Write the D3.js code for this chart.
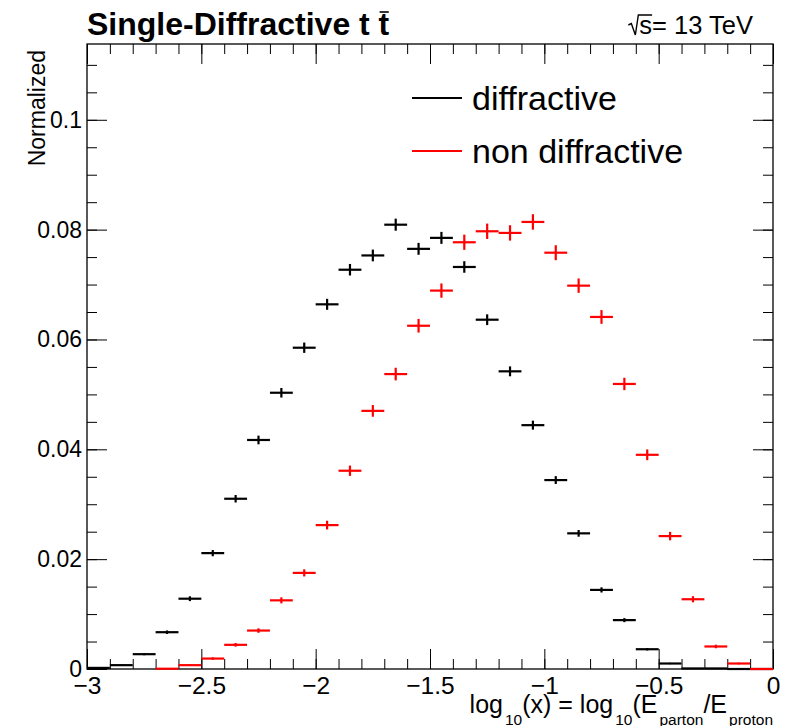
<!DOCTYPE html>
<html>
<head>
<meta charset="utf-8">
<script src="https://cdn.jsdelivr.net/npm/d3@7"></script>
<style>
  html, body { margin: 0; padding: 0; background: #ffffff; }
  svg { display: block; font-family: "Liberation Sans", Arial, Helvetica, sans-serif; }
</style>
</head>
<body>
<svg id="chart" width="797" height="726"></svg>
<script>
// ---- histogram contents: log10(x) bins of width 0.1 from -3 to 0 ----
const binCenters = [
  -2.95, -2.85, -2.75, -2.65, -2.55, -2.45, -2.35, -2.25, -2.15, -2.05,
  -1.95, -1.85, -1.75, -1.65, -1.55, -1.45, -1.35, -1.25, -1.15, -1.05,
  -0.95, -0.85, -0.75, -0.65, -0.55, -0.45, -0.35, -0.25, -0.15, -0.05
];
const binWidth = 0.1;

// diffractive sample (normalized)
const diffractive = [
  0.0002, 0.0007, 0.0027, 0.0067, 0.0128, 0.0211, 0.0310, 0.0417, 0.0503, 0.0585,
  0.0664, 0.0727, 0.0753, 0.0809, 0.0765, 0.0785, 0.0732, 0.0636, 0.0542, 0.0444,
  0.0344, 0.0247, 0.0144, 0.0089, 0.0036, 0.0010, 0.0001, 0.0001, 0.0, 0.0
];
const diffractiveErr = [
  0.00006, 0.00010, 0.00020, 0.00032, 0.00044, 0.00057, 0.00068, 0.00079, 0.00087, 0.00094,
  0.00100, 0.00105, 0.00107, 0.00110, 0.00108, 0.00109, 0.00105, 0.00098, 0.00090, 0.00082,
  0.00072, 0.00061, 0.00047, 0.00037, 0.00023, 0.00012, 0.00004, 0.00004, 0.0, 0.0
];

// non-diffractive sample (normalized); null = empty bin, not drawn
const nonDiffractive = [
  null, null, null, 0.00005, 0.0007, 0.0019, 0.0044, 0.0070, 0.0125, 0.0175,
  0.0262, 0.0361, 0.0470, 0.0537, 0.0625, 0.0689, 0.0777, 0.0797, 0.0794, 0.0814,
  0.0758, 0.0698, 0.0641, 0.0519, 0.0390, 0.0242, 0.0127, 0.0041, 0.0010, 0.0
];
const nonDiffractiveErr = [
  null, null, null, 0.00003, 0.00013, 0.00022, 0.00033, 0.00041, 0.00055, 0.00065,
  0.00080, 0.00094, 0.00107, 0.00115, 0.00124, 0.00130, 0.00138, 0.00140, 0.00140, 0.00141,
  0.00136, 0.00131, 0.00125, 0.00113, 0.00098, 0.00077, 0.00056, 0.00032, 0.00016, 0.0
];

const seriesNames = ["diffractive", "non diffractive"];
const seriesColors = ["#000000", "#ff0000"];

const xTickLabels = [-3, -2.5, -2, -1.5, -1, -0.5, 0];
const yTickLabels = [0, 0.02, 0.04, 0.06, 0.08, 0.1];

// ---- frame geometry ----
const frame = { left: 87, right: 773, top: 44, bottom: 669 };
const svg = d3.select("#chart");
svg.append("rect").attr("width", 797).attr("height", 726).attr("fill", "#ffffff");

const x = d3.scaleLinear().domain([-3, 0]).range([frame.left, frame.right]);
const y = d3.scaleLinear().domain([0, 0.1138]).range([frame.bottom, frame.top]);

const xMinor = d3.range(-30, 1).map(i => i / 10);
const yMinor = d3.range(0, 23).map(i => i * 0.005);

const fmtX = d => (d < 0 ? "\u2212" + Math.abs(d) : String(d));
const fmtY = d => (d === 0 ? "0" : String(+d.toFixed(2)));

function styleAxis(g) {
  g.select(".domain").remove();
  g.selectAll(".tick line").attr("stroke", "#000").attr("stroke-width", 1);
}

// bottom axis (ticks point into the frame)
svg.append("g").attr("transform", `translate(0,${frame.bottom})`)
  .call(d3.axisBottom(x).tickValues(xMinor).tickSizeInner(-10).tickSizeOuter(0).tickFormat(""))
  .call(styleAxis);
svg.append("g").attr("transform", `translate(0,${frame.bottom})`)
  .call(d3.axisBottom(x).tickValues(xTickLabels).tickSizeInner(-20).tickSizeOuter(0)
        .tickPadding(8).tickFormat(fmtX))
  .call(styleAxis)
  .call(g => g.selectAll("text").attr("font-size", 24.5).attr("fill", "#000")
        .attr("font-family", "Liberation Sans, Arial, sans-serif"));

// top axis
svg.append("g").attr("transform", `translate(0,${frame.top})`)
  .call(d3.axisTop(x).tickValues(xMinor).tickSizeInner(-10).tickSizeOuter(0).tickFormat(""))
  .call(styleAxis);
svg.append("g").attr("transform", `translate(0,${frame.top})`)
  .call(d3.axisTop(x).tickValues(xTickLabels).tickSizeInner(-20).tickSizeOuter(0).tickFormat(""))
  .call(styleAxis);

// left axis
svg.append("g").attr("transform", `translate(${frame.left},0)`)
  .call(d3.axisLeft(y).tickValues(yMinor).tickSizeInner(-10).tickSizeOuter(0).tickFormat(""))
  .call(styleAxis);
svg.append("g").attr("transform", `translate(${frame.left},0)`)
  .call(d3.axisLeft(y).tickValues(yTickLabels).tickSizeInner(-20).tickSizeOuter(0)
        .tickPadding(5).tickFormat(fmtY))
  .call(styleAxis)
  .call(g => g.selectAll("text").attr("font-size", 23).attr("fill", "#000")
        .attr("font-family", "Liberation Sans, Arial, sans-serif"));

// right axis
svg.append("g").attr("transform", `translate(${frame.right},0)`)
  .call(d3.axisRight(y).tickValues(yMinor).tickSizeInner(-10).tickSizeOuter(0).tickFormat(""))
  .call(styleAxis);
svg.append("g").attr("transform", `translate(${frame.right},0)`)
  .call(d3.axisRight(y).tickValues(yTickLabels).tickSizeInner(-20).tickSizeOuter(0).tickFormat(""))
  .call(styleAxis);

// frame
svg.append("rect")
  .attr("x", frame.left).attr("y", frame.top)
  .attr("width", frame.right - frame.left).attr("height", frame.bottom - frame.top)
  .attr("fill", "none").attr("stroke", "#000").attr("stroke-width", 1.3);

// ---- error-bar histograms ----
function drawSeries(values, errors, color) {
  const pts = binCenters.map((c, i) => ({ c, v: values[i], e: errors[i] }))
    .filter(d => d.v !== null);
  const g = svg.append("g").attr("stroke", color).attr("stroke-width", 2.2).attr("fill", "none");
  g.selectAll("line.h").data(pts).join("line").attr("class", "h")
    .attr("x1", d => x(d.c - binWidth / 2)).attr("x2", d => x(d.c + binWidth / 2))
    .attr("y1", d => y(d.v)).attr("y2", d => y(d.v));
  g.selectAll("line.v").data(pts.filter(d => d.e > 0)).join("line").attr("class", "v")
    .attr("x1", d => x(d.c)).attr("x2", d => x(d.c))
    .attr("y1", d => y(d.v - d.e)).attr("y2", d => y(d.v + d.e));
}
drawSeries(diffractive, diffractiveErr, seriesColors[0]);
drawSeries(nonDiffractive, nonDiffractiveErr, seriesColors[1]);

// ---- legend ----
const legendRows = [98, 151];
seriesNames.forEach((name, i) => {
  svg.append("line")
    .attr("x1", 412).attr("x2", 462).attr("y1", legendRows[i]).attr("y2", legendRows[i])
    .attr("stroke", seriesColors[i]).attr("stroke-width", 2.2);
  svg.append("text")
    .attr("x", 472).attr("y", legendRows[i] + 12)
    .attr("font-size", 34).attr("fill", "#000").text(name);
});

// ---- title with t-bar ----
const title = svg.append("text")
  .attr("x", 87).attr("y", 35)
  .attr("font-size", 32).attr("font-weight", "bold").attr("fill", "#000")
  .text("Single-Diffractive t t");
const lastT = title.node().getExtentOfChar(title.text().length - 1);
svg.append("line")
  .attr("x1", lastT.x + 1).attr("x2", lastT.x + lastT.width - 0.5)
  .attr("y1", 12).attr("y2", 12)
  .attr("stroke", "#000").attr("stroke-width", 1.6);

// ---- centre-of-mass energy ----
const energy = svg.append("text")
  .attr("x", 753).attr("y", 34).attr("text-anchor", "end")
  .attr("font-size", 25.5).attr("fill", "#000")
  .text("s= 13 TeV");
const sChar = energy.node().getExtentOfChar(0);
const sx = sChar.x;
svg.append("path")
  .attr("d", `M${sx - 11},25 L${sx - 8},23.5 L${sx - 4},35 L${sx - 1},15 L${sx + sChar.width},15`)
  .attr("fill", "none").attr("stroke", "#000").attr("stroke-width", 1.4);

// ---- axis titles ----
svg.append("text")
  .attr("transform", "translate(45,50) rotate(-90)")
  .attr("text-anchor", "end")
  .attr("font-size", 23).attr("fill", "#000")
  .text("Normalized");

const xt = svg.append("text")
  .attr("x", 773).attr("y", 713).attr("text-anchor", "end")
  .attr("font-size", 25).attr("fill", "#000");
const parts = [
  ["log", false], ["10", true], ["(x) = log", false], ["10", true],
  ["(E", false], ["parton", true], ["/E", false], ["proton", true]
];
let shifted = false;
parts.forEach(([t, sub]) => {
  const ts = xt.append("tspan").text(t);
  if (sub) {
    ts.attr("font-size", 15.5).attr("dx", 2);
    if (!shifted) { ts.attr("dy", 12); shifted = true; }
  } else if (shifted) {
    ts.attr("dy", -12); shifted = false;
  }
});
</script>
</body>
</html>
